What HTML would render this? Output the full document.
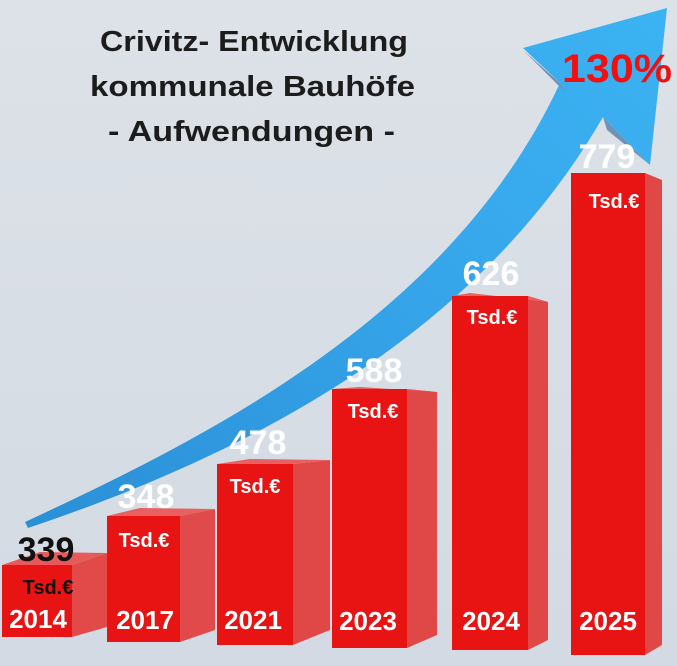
<!DOCTYPE html>
<html><head><meta charset="utf-8"><style>
html,body{margin:0;padding:0;background:#d7dde5;}
svg{display:block;font-family:"Liberation Sans","DejaVu Sans",sans-serif;font-weight:bold;}
</style></head><body>
<svg width="677" height="666" viewBox="0 0 677 666" xmlns="http://www.w3.org/2000/svg">
<defs>
<linearGradient id="bg" x1="0" y1="0" x2="0" y2="1"><stop offset="0" stop-color="#dde2e8"/><stop offset="1" stop-color="#d3dae3"/></linearGradient>
<linearGradient id="ar" x1="0" y1="1" x2="1" y2="0"><stop offset="0" stop-color="#2a8fd6"/><stop offset="0.6" stop-color="#37a7ec"/><stop offset="1" stop-color="#3bb3f2"/></linearGradient>
</defs>
<rect width="677" height="666" fill="url(#bg)"/>
<!-- arrow -->
<path d="M25,522 C200,440 450,320 560,83 L523,48 L667,8 L650,165 L603,117 C480,330 260,450 28,528 Z" fill="url(#ar)"/>
<path d="M603,117 L607,130 L650,165 Z" fill="#6f93b8"/>
<path d="M560,83 L565,92 L523,50 Z" fill="#6f93b8"/>
<!-- bars -->
<g>
<polygon points="72,565 107,553 107,627 72,637" fill="#e24a4a"/><polygon points="2,565 72,565 107,553 40,552" fill="#e85a5a"/><rect x="2" y="565" width="70" height="72" fill="#e81414"/>
<polygon points="180,516 215,509 215,630 180,642" fill="#e04a4a"/><polygon points="107,516 180,516 215,509 140,508" fill="#ea6060"/><rect x="107" y="516" width="73" height="126" fill="#e81414"/>
<polygon points="293,464 330,460 330,630 293,645" fill="#e04848"/><polygon points="217,464 293,464 330,460 250,459" fill="#ea6060"/><rect x="217" y="464" width="76" height="181" fill="#e81414"/>
<polygon points="407,389 437,392 437,635 407,648" fill="#e04848"/><polygon points="332,389 407,389 437,392 360,387" fill="#ea6060"/><rect x="332" y="389" width="75" height="259" fill="#e81414"/>
<polygon points="528,296 548,302 548,640 528,650" fill="#e04848"/><polygon points="452,296 528,296 548,302 470,293" fill="#ea6060"/><rect x="452" y="296" width="76" height="354" fill="#e81414"/>
<polygon points="645,173 662,180 662,645 645,655" fill="#e04848"/><rect x="571" y="173" width="74" height="482" fill="#e81414"/>
</g>
<!-- title -->
<g fill="#1c1c1c" font-size="29">
<text x="100" y="51" textLength="308" lengthAdjust="spacingAndGlyphs">Crivitz- Entwicklung</text>
<text x="90" y="96" textLength="325" lengthAdjust="spacingAndGlyphs">kommunale Bauhöfe</text>
<text x="108" y="141" textLength="287" lengthAdjust="spacingAndGlyphs">- Aufwendungen -</text>
</g>
<text x="562" y="82" font-size="40" fill="#f01010" textLength="110" lengthAdjust="spacingAndGlyphs">130%</text>
<!-- values -->
<g font-size="34" text-anchor="middle" fill="#fff">
<text x="46" y="561" fill="#111">339</text>
<text x="146" y="508">348</text>
<text x="258" y="454">478</text>
<text x="374" y="382">588</text>
<text x="491" y="285">626</text>
<text x="607" y="168">779</text>
</g>
<g font-size="20" text-anchor="middle" fill="#fff">
<text x="48" y="594" fill="#111">Tsd.€</text>
<text x="144" y="547">Tsd.€</text>
<text x="255" y="493">Tsd.€</text>
<text x="373" y="418">Tsd.€</text>
<text x="492" y="324">Tsd.€</text>
<text x="614" y="208">Tsd.€</text>
</g>
<g font-size="26" text-anchor="middle" fill="#fff">
<text x="38" y="628">2014</text>
<text x="145" y="629">2017</text>
<text x="253" y="629">2021</text>
<text x="368" y="630">2023</text>
<text x="491" y="630">2024</text>
<text x="608" y="630">2025</text>
</g>
</svg>
</body></html>
